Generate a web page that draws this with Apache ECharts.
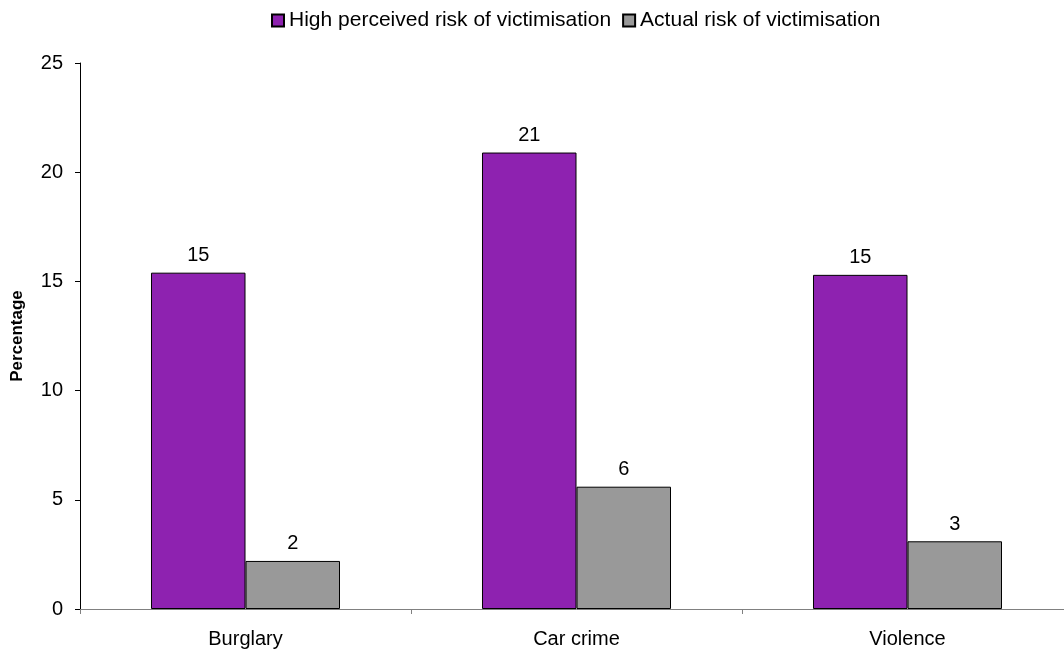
<!DOCTYPE html>
<html>
<head>
<meta charset="utf-8">
<script src="https://cdn.jsdelivr.net/npm/echarts@6/dist/echarts.min.js"></script>
<style>
  html, body { margin: 0; padding: 0; background: #ffffff; overflow: hidden; }
  /* the plot area runs a few pixels past the right edge of the window */
  #chart { width: 1073px; height: 652px; }
</style>
</head>
<body>
<div id="chart"></div>
<script>
// Crime categories and the two series of percentages
const categories = ['Burglary', 'Car crime', 'Violence'];
const perceivedRisk = [15.4, 20.9, 15.3];
const actualRisk = [2.2, 5.6, 3.1];
const seriesNames = ['High perceived risk of victimisation', 'Actual risk of victimisation'];
const yTicks = { min: 0, max: 25, interval: 5 };

const FONT = '"Liberation Sans", Arial, sans-serif';

const chart = echarts.init(document.getElementById('chart'), null, { renderer: 'canvas' });

const barLabel = {
  show: true,
  position: 'top',
  distance: 7,
  color: '#000',
  fontSize: 20,
  fontFamily: FONT,
  formatter: p => Math.round(p.value)
};

chart.setOption({
  backgroundColor: '#ffffff',
  animation: false,
  legend: {
    top: 5,
    left: 266,
    itemWidth: 12,
    itemHeight: 12,
    itemGap: 11,
    icon: 'rect',
    textStyle: { fontSize: 21, fontFamily: FONT, color: '#000' },
    data: seriesNames
  },
  grid: { left: 80, right: 0, top: 63, bottom: 43, containLabel: false, outerBoundsMode: 'none' },
  xAxis: {
    type: 'category',
    data: categories,
    axisLine: { lineStyle: { color: '#808080', width: 1 } },
    axisTick: { show: true, alignWithLabel: false, length: 5, lineStyle: { color: '#808080' } },
    axisLabel: { color: '#000', fontSize: 20, fontFamily: FONT, margin: 20 }
  },
  yAxis: {
    type: 'value',
    min: yTicks.min,
    max: yTicks.max,
    interval: yTicks.interval,
    name: 'Percentage',
    nameLocation: 'middle',
    nameGap: 54,
    nameTextStyle: { fontSize: 17, fontWeight: 'bold', fontFamily: FONT, color: '#000' },
    axisLine: { show: true, lineStyle: { color: '#000', width: 1 } },
    axisTick: { show: true, length: 5, lineStyle: { color: '#000' } },
    axisLabel: { color: '#000', fontSize: 20, fontFamily: FONT, margin: 17 },
    splitLine: { show: false }
  },
  series: [
    {
      name: seriesNames[0],
      type: 'bar',
      data: perceivedRisk,
      barGap: '0%',
      barCategoryGap: '42.9%',
      itemStyle: { color: '#8E22B0', borderColor: '#000', borderWidth: 1 },
      label: barLabel
    },
    {
      name: seriesNames[1],
      type: 'bar',
      data: actualRisk,
      barGap: '0%',
      barCategoryGap: '42.9%',
      itemStyle: { color: '#999999', borderColor: '#000', borderWidth: 1 },
      label: barLabel
    }
  ]
});
</script>
</body>
</html>
